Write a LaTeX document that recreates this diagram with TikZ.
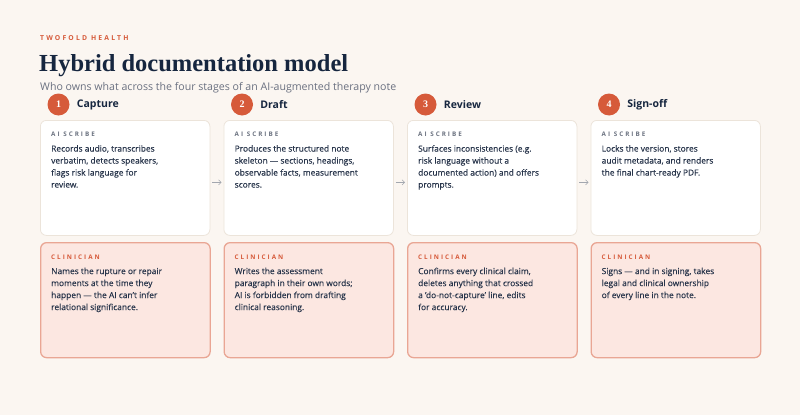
\documentclass[tikz,border=0pt]{standalone}
\usepackage{fontspec}
\setmainfont{Open Sans}
\newfontfamily\titlefont{Liberation Serif}
\newfontfamily\spacedfont[LetterSpace=32]{Open Sans}
\newfontfamily\bodyfont[FakeBold=0.25,Ligatures=TeX]{Open Sans}
\usetikzlibrary{arrows.meta}
\definecolor{bg}{HTML}{FBF6F1}
\definecolor{accent}{HTML}{D65A3A}
\definecolor{navy}{HTML}{16263F}
\definecolor{bodytext}{HTML}{27344A}
\definecolor{labelgray}{HTML}{6B7280}
\definecolor{subgray}{HTML}{6A7080}
\definecolor{aiborder}{HTML}{ECE4DA}
\definecolor{clfill}{HTML}{FCE7E1}
\definecolor{clborder}{HTML}{E9A694}
\definecolor{arrowgray}{HTML}{A3A7AF}
\tikzset{
  aibox/.style={draw=aiborder, line width=0.8pt, fill=white, rounded corners=6pt, minimum width=169.5pt, minimum height=115pt, anchor=north west, inner sep=0pt},
  clbox/.style={draw=clborder, line width=1.3pt, fill=clfill, rounded corners=6pt, minimum width=169.5pt, minimum height=115pt, anchor=north west, inner sep=0pt},
  rolelabel/.style={anchor=base west, inner sep=0pt, font=\spacedfont\bfseries\fontsize{6.3}{7}\selectfont},
  bodytxt/.style={anchor=north west, inner sep=0pt, align=left, text=bodytext, font=\bodyfont\fontsize{8.4}{12}\selectfont},
  stepnum/.style={circle, fill=accent, minimum size=22pt, inner sep=0pt, text=white, font=\titlefont\bfseries\fontsize{10}{12}\selectfont},
  steplabel/.style={anchor=west, inner sep=0pt, text=navy, font=\bfseries\fontsize{10.5}{12}\selectfont},
  flowarrow/.style={draw=arrowgray, line width=0.6pt, -{Straight Barb[length=2.5pt,width=5pt]}, shorten <=2pt, shorten >=2pt}
}
\begin{document}
\begin{tikzpicture}[x=1pt,y=-1pt]
\useasboundingbox (0,0) rectangle (800,415);
\fill[bg] (0,0) rectangle (800,415);
\node[anchor=base west, inner sep=0pt, text=accent, font=\spacedfont\bfseries\fontsize{6.8}{8}\selectfont] (brand) at (40,40.5) {TWOFOLD HEALTH};
\node[anchor=base west, inner sep=0pt, text=navy, font=\titlefont\bfseries\fontsize{24.5}{28}\selectfont] (title) at (39,71) {Hybrid documentation model};
\node[anchor=base west, inner sep=0pt, text=subgray, font=\fontsize{10.6}{12}\selectfont] (subtitle) at (40,90.5) {Who owns what across the four stages of an AI-augmented therapy note};
% boxes
\foreach \i/\x in {1/40,2/223.5,3/407,4/590.5}{
  \node[aibox] (a\i) at (\x,120) {};
  \node[clbox] (c\i) at (\x,242) {};
  \node[stepnum] (n\i) at (\x+18.5,104.5) {\i};
  \node[rolelabel, text=labelgray] (al\i) at (\x+11,136) {AI SCRIBE};
  \node[rolelabel, text=accent] (cl\i) at (\x+11,259) {CLINICIAN};
}
\node[steplabel] (s1) at ([xshift=7pt]n1.east) {Capture};
\node[steplabel] (s2) at ([xshift=7pt]n2.east) {Draft};
\node[steplabel] (s3) at ([xshift=7pt]n3.east) {Review};
\node[steplabel] (s4) at ([xshift=7pt]n4.east) {Sign-off};
% AI texts
\node[bodytxt] (at1) at (51,145) {Records audio, transcribes\\verbatim, detects speakers,\\flags risk language for\\review.};
\node[bodytxt] (at2) at (234.5,145) {Produces the structured note\\skeleton --- sections, headings,\\observable facts, measurement\\scores.};
\node[bodytxt] (at3) at (418,145) {Surfaces inconsistencies (e.g.\\risk language without a\\documented action) and offers\\prompts.};
\node[bodytxt] (at4) at (601.5,145) {Locks the version, stores\\audit metadata, and renders\\the final chart-ready PDF.};
% clinician texts
\node[bodytxt] (ct1) at (51,267.5) {Names the rupture or repair\\moments at the time they\\happen --- the AI can't infer\\relational significance.};
\node[bodytxt] (ct2) at (234.5,267.5) {Writes the assessment\\paragraph in their own words;\\AI is forbidden from drafting\\clinical reasoning.};
\node[bodytxt] (ct3) at (418,267.5) {Confirms every clinical claim,\\deletes anything that crossed\\a \char"0027 do-not-capture\char"0027{} line, edits\\for accuracy.};
\node[bodytxt] (ct4) at (601.5,267.5) {Signs --- and in signing, takes\\legal and clinical ownership\\of every line in the note.};
% arrows
\foreach \i/\j in {1/2,2/3,3/4}{
  \draw[flowarrow] ([yshift=-4.5pt]a\i.east) -- ([yshift=-4.5pt]a\j.west);
}
\end{tikzpicture}
\end{document}
